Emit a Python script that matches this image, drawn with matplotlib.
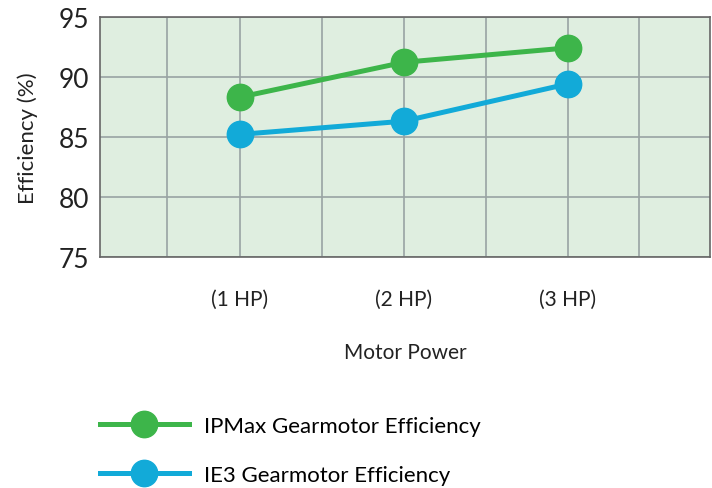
import matplotlib
matplotlib.use("Agg")
import matplotlib.pyplot as plt

categories = ["(1 HP)", "(2 HP)", "(3 HP)"]
ipmax = [88.3, 91.2, 92.4]
ie3 = [85.2, 86.3, 89.4]
yticks = [75, 80, 85, 90, 95]
series_names = ["IPMax Gearmotor Efficiency", "IE3 Gearmotor Efficiency"]

GREEN = "#3db54a"
BLUE = "#12aad8"


def main():
    plt.rcParams["font.family"] = ["Lato", "DejaVu Sans"]
    fig = plt.figure(figsize=(7.12, 4.89), dpi=100)
    ax = fig.add_axes([0.1404, 0.4724, 0.8566, 0.4916])
    ax.set_facecolor("#dfeee0")

    x = [1, 2, 3]
    l1, = ax.plot(x, ipmax, color=GREEN, lw=3.6, marker="o", ms=19,
                  label=series_names[0], zorder=3)
    l2, = ax.plot(x, ie3, color=BLUE, lw=3.6, marker="o", ms=19,
                  label=series_names[1], zorder=3)

    ax.set_xlim(0.146, 3.866)
    ax.set_ylim(75, 95)
    ax.set_yticks(yticks)
    ax.set_xticks(x)
    ax.set_xticklabels(categories)
    ax.set_xticks([0.555, 1.5, 2.5, 3.433], minor=True)
    ax.grid(True, which="both", color="#99a3a3", lw=1.2, zorder=1)
    ax.tick_params(axis="both", which="both", length=0)
    ax.tick_params(axis="y", labelsize=19, pad=8, colors="#222222")
    ax.tick_params(axis="x", labelsize=15, pad=23, colors="#222222")
    for s in ax.spines.values():
        s.set_color("#666666")
        s.set_linewidth(1.2)

    ax.set_xlabel("Motor Power", fontsize=15, labelpad=24, color="#222222")
    ax.set_ylabel("Efficiency (%)", fontsize=16, labelpad=15, color="#222222")

    fig.legend(handles=[l1, l2], loc="upper left", bbox_to_anchor=(0.14, 0.148),
               frameon=False, fontsize=16, handlelength=4.0, handletextpad=0.7,
               labelspacing=1.3, borderpad=0, borderaxespad=0)

    fig.savefig("out.png", dpi=100)


if __name__ == "__main__":
    main()
